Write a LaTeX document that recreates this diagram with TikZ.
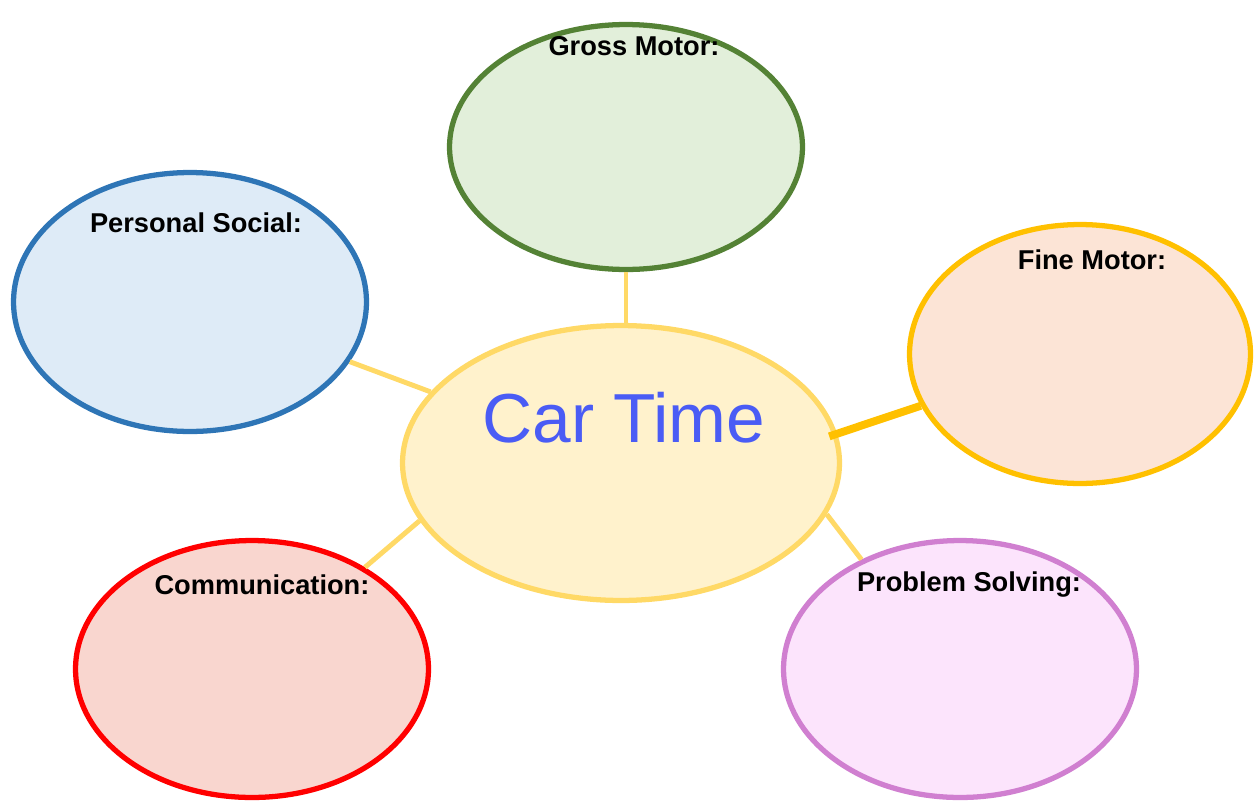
\documentclass[tikz,border=0pt]{standalone}
\usepackage{fontspec}
\setmainfont{Liberation Sans}
\usetikzlibrary{shapes.geometric}

\definecolor{grossline}{HTML}{548235}
\definecolor{grossfill}{HTML}{E2EFDA}
\definecolor{socialline}{HTML}{2E75B6}
\definecolor{socialfill}{HTML}{DEEBF7}
\definecolor{fineline}{HTML}{FFC000}
\definecolor{finefill}{HTML}{FCE4D6}
\definecolor{carline}{HTML}{FFD966}
\definecolor{carfill}{HTML}{FFF2CC}
\definecolor{carblue}{HTML}{4A5CF5}
\definecolor{commline}{HTML}{FF0000}
\definecolor{commfill}{HTML}{F9D6CF}
\definecolor{probline}{HTML}{D07FD0}
\definecolor{probfill}{HTML}{FCE4FC}

\tikzset{
  bubble/.style={ellipse, draw, line width=3pt, inner sep=0pt,
    minimum width=7.06cm, minimum height=5.14cm},
  area/.style={font=\fontsize{15.5}{18}\selectfont\bfseries},
  spoke/.style={carline, line width=2.8pt}
}

\begin{document}
\begin{tikzpicture}[x=0.02cm, y=-0.02cm]
        \useasboundingbox (0,0) rectangle (1254,805);

        % Centre
        \node[bubble, draw=carline, fill=carfill, minimum width=8.74cm, minimum height=5.5cm] (car) at (621,463) {};
        \node[text=carblue, font=\fontsize{39.5}{44}\selectfont] (cartext) at (624,418) {Car Time};

        % Gross motor
        \node[bubble, draw=grossline, fill=grossfill, minimum height=4.9cm] (gross) at (626,147) {};
        \node[area] (grosslbl) at (634,46) {Gross Motor:};

        % Personal social
        \node[bubble, draw=socialline, fill=socialfill, minimum height=5.18cm] (social) at (190,302) {};
        \node[area] (sociallbl) at (196,223) {Personal Social:};

        % Fine motor
        \node[bubble, draw=fineline, fill=finefill, minimum width=6.82cm, minimum height=5.18cm] (fine) at (1080,354) {};
        \node[area] (finelbl) at (1092,260) {Fine Motor:};

        % Communication
        \node[bubble, draw=commline, fill=commfill] (comm) at (252,669) {};
        \node[area] (commlbl) at (262,585) {Communication:};

        % Problem solving
        \node[bubble, draw=probline, fill=probfill] (prob) at (960,669) {};
        \node[area] (problbl) at (969,585) {Problem Solving:};

        % Spokes
        \draw[spoke] (gross.south) -- (gross.south |- car.north);
        \draw[spoke] (social) -- (car);
        \draw[spoke] (comm.42) -- (car.196);
        \draw[spoke] (prob.132) -- (car.-14);
        \draw[spoke, fineline, line width=4.5pt] (fine.198) -- ([xshift=-5pt]car.7);
\end{tikzpicture}
\end{document}
